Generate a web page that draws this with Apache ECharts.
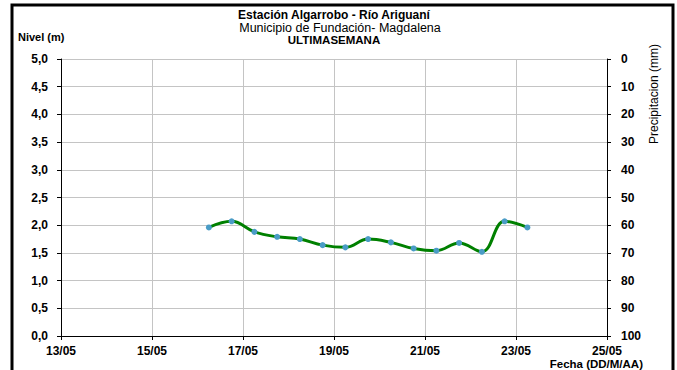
<!DOCTYPE html>
<html>
<head>
<meta charset="utf-8">
<script src="https://cdn.jsdelivr.net/npm/echarts@6/dist/echarts.min.js"></script>
<style>
  html, body { margin: 0; padding: 0; background: #fff; }
  #chart { width: 677px; height: 370px; }
</style>
</head>
<body>
<div id="chart"></div>
<script>
// Lecturas de nivel cada 12 horas (DD/MM HH:mm)
const fechas = ['16/05 06:00', '16/05 18:00', '17/05 06:00', '17/05 18:00', '18/05 06:00',
                '18/05 18:00', '19/05 06:00', '19/05 18:00', '20/05 06:00', '20/05 18:00',
                '21/05 06:00', '21/05 18:00', '22/05 06:00', '22/05 18:00', '23/05 06:00'];
const nivel = [1.96, 2.07, 1.88, 1.79, 1.75, 1.64, 1.60, 1.75, 1.69, 1.58, 1.54, 1.68, 1.52, 2.07, 1.96];

// Etiquetas de los ejes
const etiquetasFecha = ['13/05', '15/05', '17/05', '19/05', '21/05', '23/05', '25/05'];
const etiquetasNivel = ['0,0', '0,5', '1,0', '1,5', '2,0', '2,5', '3,0', '3,5', '4,0', '4,5', '5,0'];
const etiquetasPrecip = ['0', '10', '20', '30', '40', '50', '60', '70', '80', '90', '100'];

const diaInicial = 13; // 13/05 es el origen del eje de fechas

// Días (con fracción) transcurridos desde el 13/05
function aDias(f) {
  const [fecha, hora] = f.split(' ');
  const dia = parseInt(fecha.split('/')[0], 10);
  const [h, m] = hora.split(':').map(Number);
  return (dia - diaInicial) + (h + m / 60) / 24;
}

const datos = fechas.map((f, i) => [aDias(f), nivel[i]]);

const fuente = 'Liberation Sans, Arial, sans-serif';
const gris = '#c4c4c4';

const chart = echarts.init(document.getElementById('chart'), null, { renderer: 'svg' });
chart.setOption({
  backgroundColor: '#ffffff',
  animation: false,
  grid: { left: 61, right: 70, top: 59, bottom: 34, containLabel: false },
  xAxis: {
    type: 'value',
    min: 0, max: 12, interval: 2,
    axisLine: { lineStyle: { color: '#000', width: 1 } },
    axisTick: { show: true, inside: false, length: 4, lineStyle: { color: '#000' } },
    axisLabel: {
      margin: 9, lineHeight: 12,
      color: '#000', fontFamily: fuente, fontWeight: 'bold', fontSize: 12,
      formatter: v => etiquetasFecha[Math.round(v / 2)]
    },
    splitLine: { show: true, lineStyle: { color: gris, width: 1 } }
  },
  yAxis: [
    {
      type: 'value',
      min: 0, max: 5, interval: 0.5,
      axisLine: { show: true, lineStyle: { color: '#000', width: 1 } },
      axisTick: { show: true, inside: false, length: 4, lineStyle: { color: '#000' } },
      axisLabel: {
        margin: 13,
        color: '#000', fontFamily: fuente, fontWeight: 'bold', fontSize: 12,
        formatter: v => etiquetasNivel[Math.round(v * 2)]
      },
      splitLine: { show: true, lineStyle: { color: gris, width: 1 } }
    },
    {
      type: 'value',
      position: 'right',
      min: 0, max: 100, interval: 10,
      inverse: true,
      axisLine: { show: true, lineStyle: { color: '#000', width: 1 } },
      axisTick: { show: true, inside: false, length: 4, lineStyle: { color: '#000' } },
      axisLabel: {
        margin: 14,
        color: '#000', fontFamily: fuente, fontWeight: 'bold', fontSize: 12,
        formatter: v => etiquetasPrecip[Math.round(v / 10)]
      },
      splitLine: { show: false }
    }
  ],
  series: [
    {
      name: 'Nivel',
      type: 'line',
      yAxisIndex: 0,
      data: datos,
      smooth: 0.4,
      symbol: 'circle',
      symbolSize: 6,
      lineStyle: { color: '#008000', width: 3 },
      itemStyle: { color: '#4a9cc6', borderWidth: 0 }
    }
  ],
  graphic: [
    {
      type: 'rect',
      shape: { x: 12, y: 5, width: 661, height: 380 },
      style: { fill: 'none', stroke: '#000', lineWidth: 3 },
      silent: true
    },
    {
      type: 'text', x: 334, y: 15,
      style: { text: 'Estación Algarrobo - Río Ariguaní', font: 'bold 12px ' + fuente, lineHeight: 12,
               fill: '#000', align: 'center', verticalAlign: 'middle' }
    },
    {
      type: 'text', x: 340, y: 27.5,
      style: { text: 'Municipio de Fundación- Magdalena', font: '12.5px ' + fuente, lineHeight: 12,
               fill: '#000', align: 'center', verticalAlign: 'middle' }
    },
    {
      type: 'text', x: 334, y: 40,
      style: { text: 'ULTIMASEMANA', font: 'bold 11.5px ' + fuente, lineHeight: 11.5,
               fill: '#000', align: 'center', verticalAlign: 'middle' }
    },
    {
      type: 'text', x: 18, y: 37,
      style: { text: 'Nivel (m)', font: 'bold 11px ' + fuente,
               fill: '#000', align: 'left', verticalAlign: 'middle' }
    },
    {
      type: 'text', x: 654, y: 94, rotation: Math.PI / 2,
      style: { text: 'Precipitacion (mm)', font: '12px ' + fuente,
               fill: '#000', align: 'center', verticalAlign: 'middle' }
    },
    {
      type: 'text', x: 643, y: 358,
      style: { text: 'Fecha (DD/M/AA)', font: 'bold 11.5px ' + fuente, lineHeight: 12,
               fill: '#000', align: 'right', verticalAlign: 'top' }
    }
  ]
});
</script>
</body>
</html>
